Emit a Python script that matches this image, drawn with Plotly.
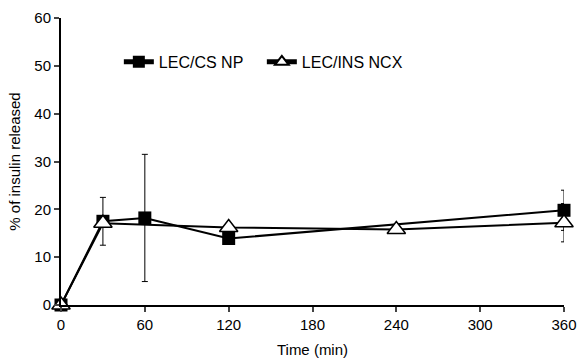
import plotly.graph_objects as go

time_cs = [0, 30, 60, 120, 360]
cs_np = [0, 17.5, 18.2, 13.9, 19.8]
cs_err = [0, 5.0, 13.3, 0, 4.2]

time_ins = [0, 30, 120, 240, 360]
ins_ncx = [0, 17.1, 16.2, 15.8, 17.2]
ins_err = [0, 0, 0, 0, 4.0]

x_ticks = [0, 60, 120, 180, 240, 300, 360]
y_ticks = [0, 10, 20, 30, 40, 50, 60]

font = "Liberation Sans, Arial, sans-serif"

fig = go.Figure()
fig.add_trace(go.Scatter(
    x=time_cs, y=cs_np, name="LEC/CS NP", mode="lines+markers",
    line=dict(color="black", width=2),
    marker=dict(symbol="square", size=13, color="black"),
    error_y=dict(type="data", array=cs_err, color="black", thickness=1, width=3),
    cliponaxis=False,
))
fig.add_trace(go.Scatter(
    x=time_ins, y=ins_ncx, name="LEC/INS NCX", mode="lines+markers",
    line=dict(color="black", width=2),
    marker=dict(symbol="triangle-up", size=16, color="white",
                line=dict(color="black", width=1.5)),
    error_y=dict(type="data", array=ins_err, color="black", thickness=1, width=3),
    cliponaxis=False,
))

fig.update_layout(
    width=577, height=359,
    margin=dict(l=61, r=13, t=18, b=54),
    paper_bgcolor="white", plot_bgcolor="white",
    font=dict(family=font, color="black", size=15),
    legend=dict(orientation="h", x=0.115, y=0.847, xanchor="left", yanchor="middle",
                font=dict(size=16), bgcolor="rgba(0,0,0,0)", itemwidth=30,
                itemsizing="constant", entrywidth=98, entrywidthmode="pixels"),
    showlegend=True,
)
fig.update_xaxes(
    range=[0, 360], tickvals=x_ticks, ticks="outside", ticklen=5, tickwidth=2,
    showline=True, linecolor="black", linewidth=2, showgrid=False, zeroline=False,
    title=dict(text="Time (min)", font=dict(size=15), standoff=12),
    tickfont=dict(size=15), automargin=False,
)
fig.update_yaxes(
    range=[0, 60], tickvals=y_ticks, ticks="outside", ticklen=5, tickwidth=2,
    showline=True, linecolor="black", linewidth=2, showgrid=False, zeroline=False,
    title=dict(text="% of insulin released", font=dict(size=15), standoff=10),
    tickfont=dict(size=15), automargin=False,
)

fig.write_html(
    "out.html",
    config={"displayModeBar": False},
    post_script="document.body.style.margin='0';document.body.style.overflow='hidden';",
)
